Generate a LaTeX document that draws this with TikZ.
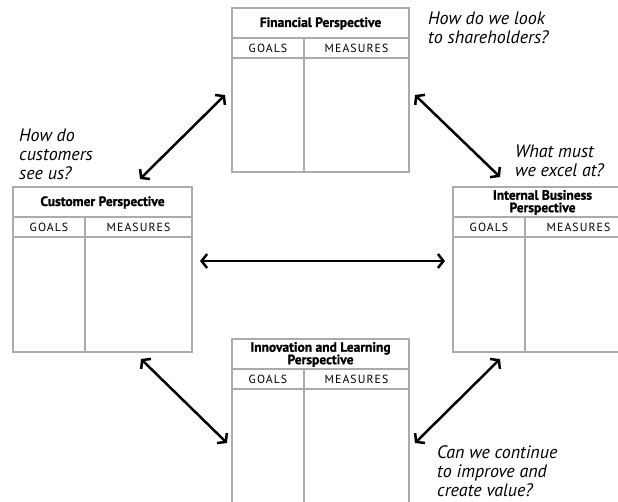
\documentclass[tikz,border=0pt]{standalone}
\usepackage{fontspec}
\setmainfont{PT Sans}
\usetikzlibrary{arrows.meta,calc}
\tikzset{
  box/.style={draw=black!33,line width=1.6pt,inner sep=0pt,outer sep=0pt,rectangle},
  boxline/.style={draw=black!33,line width=1.6pt},
  ptitle/.style={font=\fontsize{13.5}{12.5}\selectfont\bfseries\addfontfeatures{FakeBold=1.2},align=center,inner sep=0pt},
  phead/.style={font=\fontsize{11.8}{12}\selectfont\addfontfeatures{LetterSpace=9},inner sep=0pt},
  question/.style={font=\fontsize{18}{19}\selectfont\itshape,align=left,inner sep=0pt,anchor=north west},
  link/.style={line width=2.5pt,{Straight Barb[length=5.5pt,width=14pt]}-{Straight Barb[length=5.5pt,width=14pt]}}
}
\newcommand{\persp}[6]{%
  \node[box,minimum width=#4pt,minimum height=#5pt,anchor=north west] (#1) at (#2,#3) {};
  \draw[boxline] ([yshift=-30pt]#1.north west) -- ([yshift=-30pt]#1.north east);
  \draw[boxline] ([yshift=-50pt]#1.north west) -- ([yshift=-50pt]#1.north east);
  \draw[boxline] ([xshift=72pt,yshift=-50pt]#1.north west) -- ([xshift=72pt]#1.south west);
  \draw[boxline] ([xshift=72pt,yshift=-30pt]#1.north west) -- ([xshift=72pt,yshift=-50pt]#1.north west);
  \node[ptitle] (#1-t) at ([yshift=-15.5pt]#1.north) {#6};
  \node[phead] (#1-g) at ([xshift=36pt,yshift=-40pt]#1.north west) {GOALS};
  \node[phead] (#1-m) at ($([xshift=72pt,yshift=-40pt]#1.north west)!0.5!([yshift=-40pt]#1.north east)$) {MEASURES};
}
\begin{document}
\begin{tikzpicture}[x=1pt,y=-1pt]
\useasboundingbox (0,0) rectangle (618,501);
\fill[white] (0,0) rectangle (618,501);
\persp{fin}{232}{8}{177}{164}{Financial Perspective}
\persp{cus}{13}{187}{179}{165}{Customer Perspective}
\persp{int}{453}{187}{179}{165}{Internal Business\\Perspective}
\persp{inn}{232}{339}{177}{175}{Innovation and Learning\\Perspective}
% questions
\node[question] (q1) at (428,12) {How do we look\\to shareholders?};
\node[question] (q2) at (515,145) {What must\\we excel at?};
\node[question] (q3) at (19,129) {How do\\customers\\see us?};
\node[question] (q4) at (437,445) {Can we continue\\to improve and\\create value?};
% arrow end points
\coordinate (a1f) at (225,95);
\coordinate (a1c) at (140,179);
\coordinate (a2f) at (415,95);
\coordinate (a2i) at (500,177);
\coordinate (a3c) at (200,261);
\coordinate (a3i) at (445,261);
\coordinate (a4c) at (141,359);
\coordinate (a4n) at (227,443);
\coordinate (a5i) at (500,359);
\coordinate (a5n) at (415,443);
\draw[link] (a1f) -- (a1c);
\draw[link] (a2f) -- (a2i);
\draw[link] (a3c) -- (a3i);
\draw[link] (a4c) -- (a4n);
\draw[link] (a5i) -- (a5n);
\end{tikzpicture}
\end{document}
